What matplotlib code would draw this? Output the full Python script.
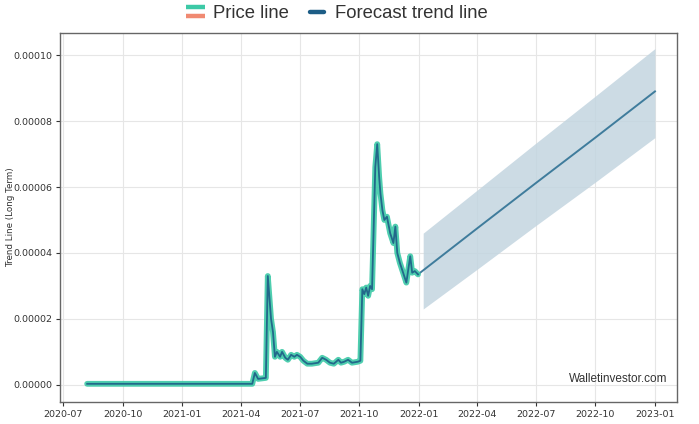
import matplotlib
matplotlib.use("Agg")
import matplotlib.pyplot as plt
import matplotlib.dates as mdates
from matplotlib.lines import Line2D
from matplotlib.legend_handler import HandlerBase
import numpy as np
import pandas as pd

# ---- data ----
price_dates = [
    "2020-08-07", "2021-04-19", "2021-04-23", "2021-04-28", "2021-05-10",
    "2021-05-13", "2021-05-18", "2021-05-21", "2021-05-24", "2021-05-27",
    "2021-06-01", "2021-06-04", "2021-06-09", "2021-06-13", "2021-06-18",
    "2021-06-23", "2021-06-27", "2021-07-02", "2021-07-07", "2021-07-13",
    "2021-07-20", "2021-07-30", "2021-08-05", "2021-08-11", "2021-08-17",
    "2021-08-23", "2021-08-30", "2021-09-03", "2021-09-08", "2021-09-14",
    "2021-09-20", "2021-09-29", "2021-10-03", "2021-10-06", "2021-10-09",
    "2021-10-12", "2021-10-15", "2021-10-18", "2021-10-21", "2021-10-26",
    "2021-10-29", "2021-11-01", "2021-11-03", "2021-11-06", "2021-11-09",
    "2021-11-13", "2021-11-18", "2021-11-23", "2021-11-26", "2021-11-29",
    "2021-12-03", "2021-12-08", "2021-12-13", "2021-12-19", "2021-12-22",
    "2021-12-26", "2021-12-31",
]
price_values = [
    0.3, 0.3, 3.6, 1.8, 2.1,
    33.0, 20.0, 16.0, 8.5, 10.0,
    8.5, 10.0, 8.2, 7.6, 9.1,
    8.5, 9.1, 8.5, 7.3, 6.4,
    6.4, 6.7, 8.2, 7.6, 6.7,
    6.4, 7.6, 6.7, 7.0, 7.6,
    6.7, 7.0, 7.3, 29.0, 27.5,
    29.5, 27.0, 30.0, 29.0, 66.0,
    73.0, 63.0, 58.0, 53.0, 50.0,
    51.0, 46.0, 43.0, 48.0, 40.0,
    37.0, 34.0, 31.0, 39.0, 34.0,
    34.5, 33.5,
]

forecast_dates = ["2021-12-31", "2022-04-01", "2022-07-01", "2022-10-01", "2023-01-01"]
forecast_values = [33.5, 47.4, 61.2, 75.0, 89.0]

band_dates = ["2022-01-08", "2022-04-01", "2022-07-01", "2022-10-01", "2023-01-01"]
band_upper = [46.0, 59.0, 73.3, 87.6, 102.0]
band_lower = [23.0, 35.0, 48.3, 61.5, 75.0]

legend_labels = ["Price line", "Forecast trend line"]
y_label = "Trend Line (Long Term)"
x_label = "Date (UTC Time)"
watermark = "Walletinvestor.com"

# ---- styles ----
TEAL = "#3cc9a6"
SALMON = "#f08a72"
DARK = "#1d5d86"
BAND = "#c3d5e0"

pd_price = pd.to_datetime(price_dates)
pd_fc = pd.to_datetime(forecast_dates)
pd_band = pd.to_datetime(band_dates)
scale = 1e-6

fig = plt.figure(figsize=(6.99, 4.24), dpi=100)
ax = fig.add_axes([0.0858, 0.052, 0.8827, 0.870])

ax.fill_between(pd_band, np.array(band_lower) * scale, np.array(band_upper) * scale,
                color=BAND, alpha=0.85, linewidth=0, zorder=2)
ax.plot(pd_fc, np.array(forecast_values) * scale, color="#3f7c9c", lw=1.4, zorder=3)
ax.plot(pd_price, np.array(price_values) * scale, color=TEAL, lw=4.2,
        solid_joinstyle="round", solid_capstyle="round", alpha=0.9, zorder=4)
ax.plot(pd_price, np.array(price_values) * scale, color=DARK, lw=1.3,
        solid_joinstyle="round", alpha=0.9, zorder=5)

ax.set_xlim(pd.Timestamp("2020-06-26"), pd.Timestamp("2023-02-04"))
ax.set_ylim(-5.2e-6, 106.7e-6)
ax.set_yticks(np.arange(0, 0.000101, 0.00002))
ax.yaxis.set_major_formatter(matplotlib.ticker.FuncFormatter(lambda v, p: f"{v:.5f}"))
ax.xaxis.set_major_locator(mdates.MonthLocator(bymonth=[1, 4, 7, 10]))
ax.xaxis.set_major_formatter(mdates.DateFormatter("%Y-%m"))

ax.tick_params(labelsize=6.8, colors="#333333", length=3, pad=2.5)
ax.grid(True, color="#e6e6e6", lw=0.8, zorder=0)
ax.set_axisbelow(True)
for s in ax.spines.values():
    s.set_color("#666666")
    s.set_linewidth(1.0)

ax.set_ylabel(y_label, fontsize=6.3, color="#333333")
ax.yaxis.set_label_coords(-0.073, 0.5)
ax.set_xlabel(x_label, fontsize=6.8, color="#333333")
ax.xaxis.set_label_coords(0.5, -0.085)

ax.text(0.985, 0.045, watermark, transform=ax.transAxes, ha="right", va="bottom",
        fontsize=8.5, color="#333333", family="Liberation Sans", zorder=6)


class StackedHandler(HandlerBase):
    def create_artists(self, legend, orig_handle, xdescent, ydescent,
                       width, height, fontsize, trans):
        arts = []
        if orig_handle == "price":
            for frac, col in ((0.85, TEAL), (0.2, SALMON)):
                y = -ydescent + height * frac
                arts.append(Line2D([-xdescent, -xdescent + width], [y, y],
                                   color=col, lw=3.2, transform=trans,
                                   solid_capstyle="butt"))
        else:
            y = -ydescent + height * 0.5
            arts.append(Line2D([-xdescent + 2, -xdescent + width - 2], [y, y],
                               color=DARK, lw=3.2, transform=trans,
                               solid_capstyle="round"))
        return arts


fig.legend(["price", "forecast"], legend_labels,
           handler_map={str: StackedHandler()},
           loc="upper center", bbox_to_anchor=(0.482, 1.027), ncol=2,
           frameon=False, prop={"family": "Liberation Sans", "size": 13.3},
           handlelength=1.05, handletextpad=0.45, columnspacing=1.0,
           labelcolor="#333333")

fig.savefig("out.png", dpi=100, facecolor="white")
